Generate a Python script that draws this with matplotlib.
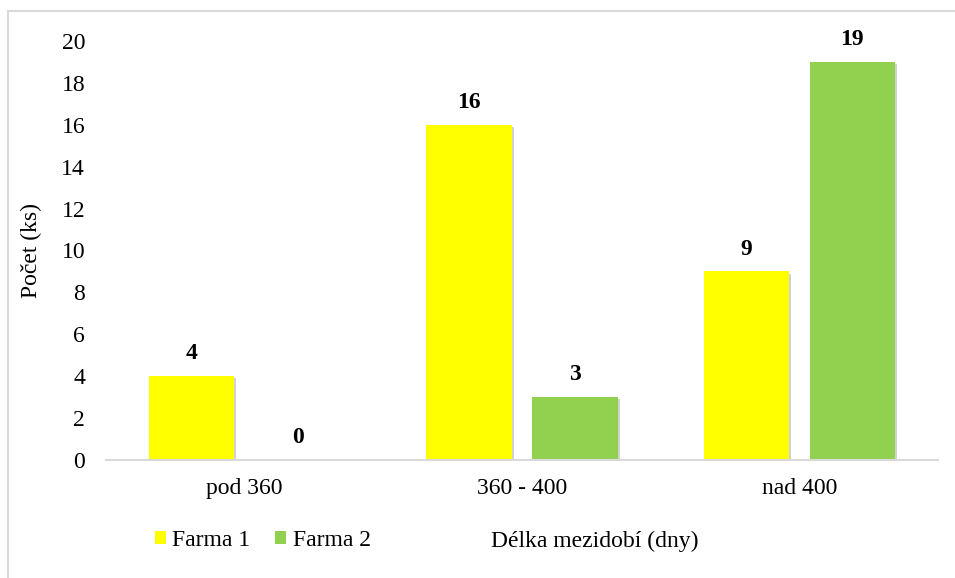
import matplotlib.pyplot as plt
import matplotlib.patheffects as pe
from matplotlib.patches import Rectangle, Patch
import numpy as np

# counts of calving intervals per farm
categories = ["pod 360", "360 - 400", "nad 400"]
farma1 = [4, 16, 9]
farma2 = [0, 3, 19]
yticks = [0, 2, 4, 6, 8, 10, 12, 14, 16, 18, 20]
col1, col2 = '#FFFF00', '#92D050'

plt.rcParams['font.family'] = ['Liberation Serif', 'DejaVu Serif']
fs = 17

W, H = 955, 578
fig = plt.figure(figsize=(W / 100, H / 100), dpi=100)
ax = fig.add_axes([106 / W, 1 - 460 / H, (938 - 106) / W, (460 - 41) / H])

# light grey frame around the chart area
fig.patches.append(Rectangle((7.5 / W, -0.5), 2, 1.5 - 11 / H, transform=fig.transFigure,
                             fill=False, edgecolor='#D9D9D9', linewidth=1.5))

x = np.arange(len(categories))
width = 0.307
off = 0.191
shadow = [pe.SimplePatchShadow(offset=(1.5, -1.5), shadow_rgbFace='#808080', alpha=0.35), pe.Normal()]

b1 = ax.bar(x - off, farma1, width, color=col1, zorder=3)
b2 = ax.bar(x + off, farma2, width, color=col2, zorder=3)
for b in list(b1) + list(b2):
    b.set_path_effects(shadow)

for bars, vals in ((b1, farma1), (b2, farma2)):
    for rect, v in zip(bars, vals):
        ax.annotate(str(v), (rect.get_x() + rect.get_width() / 2, v),
                    xytext=(0, 16), textcoords='offset points',
                    ha='center', va='center', fontsize=fs, fontweight='bold')

ax.set_xlim(-0.5, 2.5)
ax.set_ylim(0, 20)
ax.set_yticks(yticks)
ax.set_xticks(x)
ax.set_xticklabels(categories)
ax.tick_params(axis='both', length=0, labelsize=fs)
ax.tick_params(axis='x', pad=13)
ax.tick_params(axis='y', pad=15)

for s in ('top', 'right', 'left'):
    ax.spines[s].set_visible(False)
ax.spines['bottom'].set_color('#D9D9D9')
ax.spines['bottom'].set_linewidth(1.5)
ax.spines['bottom'].set_zorder(4)

ax.set_ylabel("Počet (ks)", fontsize=fs)
ax.yaxis.set_label_coords(-0.0763, 0.5)

fig.text(595 / W, 1 - 541 / H, "Délka mezidobí (dny)", ha='center', va='center', fontsize=fs)

handles = [Patch(facecolor=col1, label='Farma 1'), Patch(facecolor=col2, label='Farma 2')]
fig.legend(handles=handles, loc='center left', bbox_to_anchor=(155 / W, 1 - 540 / H),
           frameon=False, ncol=2, fontsize=fs, handlelength=0.48, handleheight=0.48,
           handletextpad=0.26, columnspacing=1.04, borderpad=0, borderaxespad=0)

fig.savefig('out.png', dpi=100)
